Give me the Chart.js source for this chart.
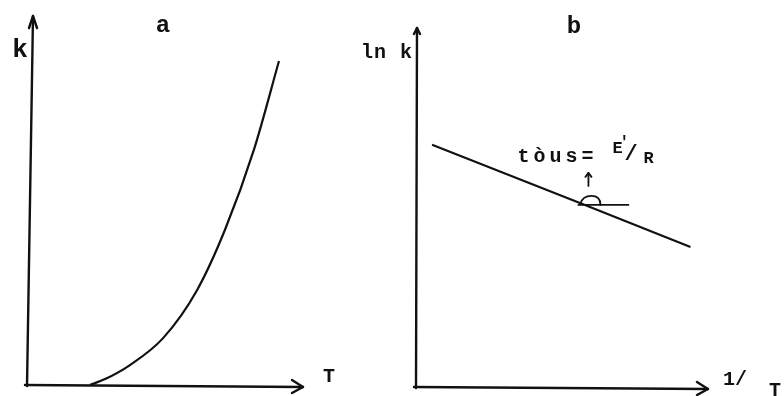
<!DOCTYPE html>
<html>
<head>
<meta charset="utf-8">
<script src="https://cdn.jsdelivr.net/npm/chart.js@4.4.0/dist/chart.umd.min.js"></script>
<style>
html,body{margin:0;padding:0;background:#fff;}
#wrap{position:relative;width:784px;height:396px;overflow:hidden;}
.panel{position:absolute;top:0;height:396px;}
</style>
</head>
<body>
<div id="wrap">
  <div class="panel" style="left:0;width:392px"><canvas id="chartA" width="392" height="396"></canvas></div>
  <div class="panel" style="left:360px;width:424px"><canvas id="chartB" width="424" height="396"></canvas></div>
</div>
<script>
// a: rate constant k against temperature T
var tempT=[2.28,2.83,3.73,4.93,6.16,7.17,8.22,9.13];
var rateK=[0,0.16,0.54,1.27,2.57,4.2,6.37,8.78];

// b: ln k against 1/T, the middle point carries the slope note
var invT=[0.55,5.7,9.4];
var lnK=[6.75,5.1,3.9];

var ink='#111';
var mono='"Liberation Mono", "DejaVu Sans Mono", monospace';

function toXY(xs,ys){
    return xs.map(function(x,i){return {x:x,y:ys[i]};});
}

function line(ctx,pts){
    ctx.beginPath();
    ctx.moveTo(pts[0][0],pts[0][1]);
    for(var i=1;i<pts.length;i++) ctx.lineTo(pts[i][0],pts[i][1]);
    ctx.stroke();
}

function label(ctx,text,x,y,size,align,spacing){
    ctx.font='bold '+size+'px '+mono;
    ctx.letterSpacing=(spacing||0)+'px';
    ctx.textAlign=align||'left';
    ctx.textBaseline='alphabetic';
    ctx.fillText(text,x,y);
    ctx.letterSpacing='0px';
}

// hand drawn axes with arrow heads, plus the panel texts
function sketchAxes(o){
    return {
        id:'sketchAxes',
        afterDatasetsDraw:function(chart){
            var ctx=chart.ctx, a=chart.chartArea;
            ctx.save();
            ctx.strokeStyle=ink;
            ctx.fillStyle=ink;
            ctx.lineCap='round';
            ctx.lineJoin='round';
            ctx.lineWidth=2.4;
            // y axis
            line(ctx,[[a.left,a.bottom+1],[a.left+o.tilt,a.top]]);
            line(ctx,[[a.left+o.tilt-o.yHead[0],a.top+o.yHead[1]],[a.left+o.tilt,a.top],[a.left+o.tilt+o.yHead[0],a.top+o.yHead[1]]]);
            // x axis
            line(ctx,[[a.left-2,a.bottom],[a.right,a.bottom+2]]);
            line(ctx,[[a.right-11,a.bottom-5],[a.right,a.bottom+2],[a.right-11,a.bottom+8]]);
            o.draw(ctx,chart);
            ctx.restore();
        }
    };
}

function baseOptions(pad){
    return {
        responsive:false,
        animation:false,
        layout:{padding:pad},
        plugins:{legend:{display:false},tooltip:{enabled:false}},
        scales:{
            x:{type:'linear',min:0,max:10,display:false},
            y:{type:'linear',min:0,max:10,display:false}
        }
    };
}

new Chart(document.getElementById('chartA'),{
    type:'scatter',
    data:{
        datasets:[{
            data:toXY(tempT,rateK),
            showLine:true,
            borderColor:ink,
            borderWidth:2.2,
            pointRadius:0,
            cubicInterpolationMode:'monotone'
        }]
    },
    options:baseOptions({left:27,right:89,top:16,bottom:11}),
    plugins:[sketchAxes({
        tilt:6,
        yHead:[4,12],
        draw:function(ctx){
            label(ctx,'k',20,57,26,'center');
            label(ctx,'a',163,32,24,'center');
            label(ctx,'T',329,382,20,'center');
        }
    })]
});

new Chart(document.getElementById('chartB'),{
    type:'scatter',
    data:{
        datasets:[{
            data:toXY(invT,lnK),
            showLine:true,
            borderColor:ink,
            borderWidth:2.2,
            pointRadius:0
        }]
    },
    options:baseOptions({left:56,right:76,top:28,bottom:9}),
    plugins:[sketchAxes({
        tilt:1,
        yHead:[3,6],
        draw:function(ctx,chart){
            var sx=chart.scales.x, sy=chart.scales.y;
            var px=sx.getPixelForValue(invT[1]), py=sy.getPixelForValue(lnK[1]);
            label(ctx,'ln k',53,58,20,'right',1);
            label(ctx,'b',214,33,24,'center');
            label(ctx,'1/',375,385,20,'center');
            label(ctx,'T',415,396,20,'center');
            // tangent and angle mark at the marked point
            ctx.lineWidth=1.8;
            line(ctx,[[px-4,py+1],[px+46,py+1]]);
            ctx.beginPath();
            ctx.moveTo(px-2,py);
            ctx.quadraticCurveTo(px,py-8,px+9,py-8);
            ctx.quadraticCurveTo(px+18,py-8,px+18,py+1);
            ctx.stroke();
            // small arrow pointing up to the note
            line(ctx,[[px+6,py-18],[px+6,py-31]]);
            line(ctx,[[px+3,py-27],[px+6,py-31],[px+9,py-27]]);
            // slope note
            label(ctx,'tòus=',px-65,py-42,20,'left',4);
            label(ctx,'E',px+30,py-51,17,'left');
            label(ctx,'\u2032',px+37,py-57,16,'left');
            label(ctx,'/',px+42,py-44,22,'left');
            label(ctx,'R',px+61,py-41,17,'left');
        }
    })]
});
</script>
</body>
</html>
